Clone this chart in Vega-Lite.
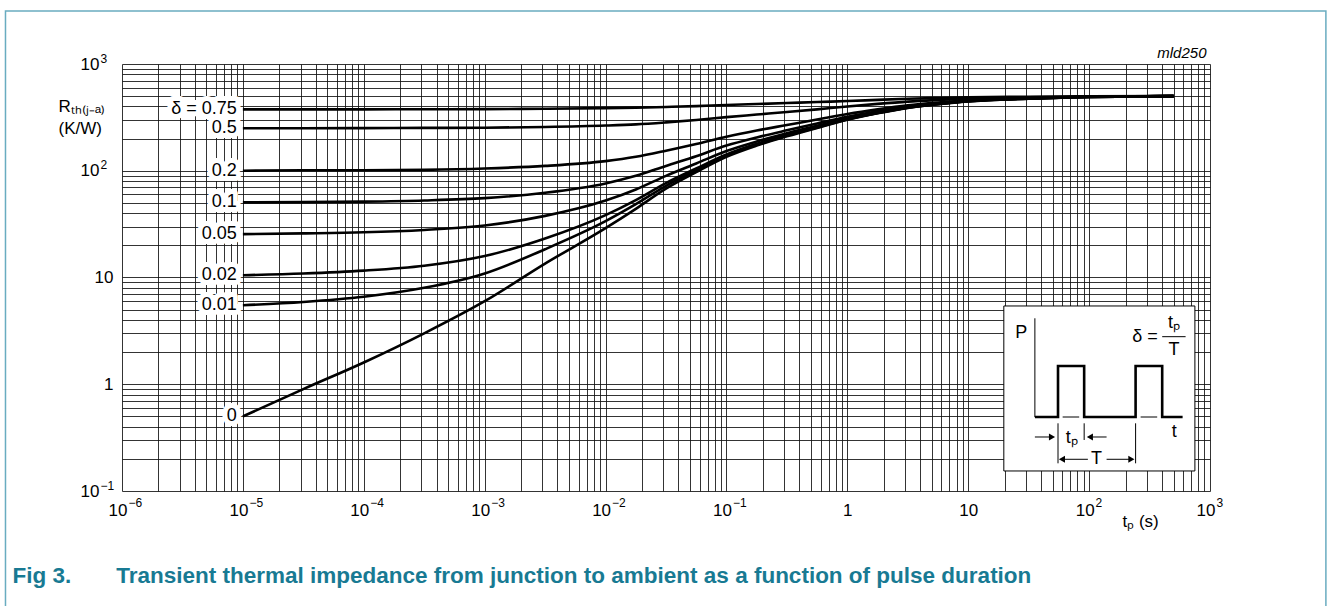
{
  "$schema": "https://vega.github.io/schema/vega-lite/v6.json",
  "width": 1088,
  "height": 427,
  "autosize": "none",
  "padding": {"left": 122, "top": 64, "right": 117, "bottom": 115},
  "background": "white",
  "config": {"view": {"stroke": null}, "font": "Liberation Sans"},
  "datasets": {
    "curves": [
      {"delta":"0.75","t":1e-5,"z":376},{"delta":"0.75","t":3.16e-5,"z":376},{"delta":"0.75","t":1e-4,"z":376},{"delta":"0.75","t":3.16e-4,"z":377},{"delta":"0.75","t":1e-3,"z":378},{"delta":"0.75","t":3.16e-3,"z":381},{"delta":"0.75","t":1e-2,"z":386},{"delta":"0.75","t":1.78e-2,"z":390},{"delta":"0.75","t":3.16e-2,"z":396},{"delta":"0.75","t":5.62e-2,"z":403},{"delta":"0.75","t":0.1,"z":413},{"delta":"0.75","t":0.178,"z":422},{"delta":"0.75","t":0.316,"z":431},{"delta":"0.75","t":0.562,"z":440},{"delta":"0.75","t":1,"z":450},{"delta":"0.75","t":1.78,"z":461},{"delta":"0.75","t":3.16,"z":472},{"delta":"0.75","t":5.62,"z":480},{"delta":"0.75","t":10,"z":487},{"delta":"0.75","t":31.6,"z":494},{"delta":"0.75","t":100,"z":498},{"delta":"0.75","t":500,"z":500},
      {"delta":"0.5","t":1e-5,"z":250},{"delta":"0.5","t":3.16e-5,"z":250},{"delta":"0.5","t":1e-4,"z":251},{"delta":"0.5","t":3.16e-4,"z":252},{"delta":"0.5","t":1e-3,"z":253},{"delta":"0.5","t":3.16e-3,"z":257},{"delta":"0.5","t":1e-2,"z":265},{"delta":"0.5","t":1.78e-2,"z":272},{"delta":"0.5","t":3.16e-2,"z":284},{"delta":"0.5","t":5.62e-2,"z":299},{"delta":"0.5","t":0.1,"z":318},{"delta":"0.5","t":0.178,"z":336},{"delta":"0.5","t":0.316,"z":355},{"delta":"0.5","t":0.562,"z":376},{"delta":"0.5","t":1,"z":400},{"delta":"0.5","t":1.78,"z":423},{"delta":"0.5","t":3.16,"z":444},{"delta":"0.5","t":5.62,"z":460},{"delta":"0.5","t":10,"z":474},{"delta":"0.5","t":31.6,"z":487},{"delta":"0.5","t":100,"z":496},{"delta":"0.5","t":500,"z":500},
      {"delta":"0.2","t":1e-5,"z":100},{"delta":"0.2","t":3.16e-5,"z":101},{"delta":"0.2","t":1e-4,"z":101},{"delta":"0.2","t":3.16e-4,"z":102},{"delta":"0.2","t":1e-3,"z":105},{"delta":"0.2","t":3.16e-3,"z":111},{"delta":"0.2","t":1e-2,"z":123},{"delta":"0.2","t":1.78e-2,"z":135},{"delta":"0.2","t":3.16e-2,"z":154},{"delta":"0.2","t":5.62e-2,"z":178},{"delta":"0.2","t":0.1,"z":208},{"delta":"0.2","t":0.178,"z":238},{"delta":"0.2","t":0.316,"z":268},{"delta":"0.2","t":0.562,"z":302},{"delta":"0.2","t":1,"z":340},{"delta":"0.2","t":1.78,"z":376},{"delta":"0.2","t":3.16,"z":410},{"delta":"0.2","t":5.62,"z":436},{"delta":"0.2","t":10,"z":458},{"delta":"0.2","t":31.6,"z":479},{"delta":"0.2","t":100,"z":494},{"delta":"0.2","t":500,"z":500},
      {"delta":"0.1","t":1e-5,"z":50.5},{"delta":"0.1","t":3.16e-5,"z":50.8},{"delta":"0.1","t":1e-4,"z":51.4},{"delta":"0.1","t":3.16e-4,"z":52.7},{"delta":"0.1","t":1e-3,"z":55.4},{"delta":"0.1","t":3.16e-3,"z":62.2},{"delta":"0.1","t":1e-2,"z":76.1},{"delta":"0.1","t":1.78e-2,"z":89.6},{"delta":"0.1","t":3.16e-2,"z":111},{"delta":"0.1","t":5.62e-2,"z":137},{"delta":"0.1","t":0.1,"z":172},{"delta":"0.1","t":0.178,"z":205},{"delta":"0.1","t":0.316,"z":239},{"delta":"0.1","t":0.562,"z":277},{"delta":"0.1","t":1,"z":320},{"delta":"0.1","t":1.78,"z":361},{"delta":"0.1","t":3.16,"z":399},{"delta":"0.1","t":5.62,"z":428},{"delta":"0.1","t":10,"z":452},{"delta":"0.1","t":31.6,"z":477},{"delta":"0.1","t":100,"z":493},{"delta":"0.1","t":500,"z":500},
      {"delta":"0.05","t":1e-5,"z":25.5},{"delta":"0.05","t":3.16e-5,"z":25.9},{"delta":"0.05","t":1e-4,"z":26.5},{"delta":"0.05","t":3.16e-4,"z":27.9},{"delta":"0.05","t":1e-3,"z":30.7},{"delta":"0.05","t":3.16e-3,"z":37.8},{"delta":"0.05","t":1e-2,"z":52.6},{"delta":"0.05","t":1.78e-2,"z":66.8},{"delta":"0.05","t":3.16e-2,"z":89.6},{"delta":"0.05","t":5.62e-2,"z":117},{"delta":"0.05","t":0.1,"z":153},{"delta":"0.05","t":0.178,"z":188},{"delta":"0.05","t":0.316,"z":225},{"delta":"0.05","t":0.562,"z":264},{"delta":"0.05","t":1,"z":310},{"delta":"0.05","t":1.78,"z":353},{"delta":"0.05","t":3.16,"z":394},{"delta":"0.05","t":5.62,"z":424},{"delta":"0.05","t":10,"z":450},{"delta":"0.05","t":31.6,"z":475},{"delta":"0.05","t":100,"z":492},{"delta":"0.05","t":500,"z":500},
      {"delta":"0.02","t":1e-5,"z":10.5},{"delta":"0.02","t":3.16e-5,"z":10.9},{"delta":"0.02","t":1e-4,"z":11.6},{"delta":"0.02","t":3.16e-4,"z":12.9},{"delta":"0.02","t":1e-3,"z":15.9},{"delta":"0.02","t":3.16e-3,"z":23.2},{"delta":"0.02","t":1e-2,"z":38.4},{"delta":"0.02","t":1.78e-2,"z":53.1},{"delta":"0.02","t":3.16e-2,"z":76.6},{"delta":"0.02","t":5.62e-2,"z":105},{"delta":"0.02","t":0.1,"z":142},{"delta":"0.02","t":0.178,"z":179},{"delta":"0.02","t":0.316,"z":216},{"delta":"0.02","t":0.562,"z":257},{"delta":"0.02","t":1,"z":304},{"delta":"0.02","t":1.78,"z":348},{"delta":"0.02","t":3.16,"z":390},{"delta":"0.02","t":5.62,"z":422},{"delta":"0.02","t":10,"z":448},{"delta":"0.02","t":31.6,"z":475},{"delta":"0.02","t":100,"z":492},{"delta":"0.02","t":500,"z":500},
      {"delta":"0.01","t":1e-5,"z":5.5},{"delta":"0.01","t":3.16e-5,"z":5.9},{"delta":"0.01","t":1e-4,"z":6.6},{"delta":"0.01","t":3.16e-4,"z":8.0},{"delta":"0.01","t":1e-3,"z":10.9},{"delta":"0.01","t":3.16e-3,"z":18.4},{"delta":"0.01","t":1e-2,"z":33.7},{"delta":"0.01","t":1.78e-2,"z":48.6},{"delta":"0.01","t":3.16e-2,"z":72.3},{"delta":"0.01","t":5.62e-2,"z":101},{"delta":"0.01","t":0.1,"z":139},{"delta":"0.01","t":0.178,"z":175},{"delta":"0.01","t":0.316,"z":213},{"delta":"0.01","t":0.562,"z":254},{"delta":"0.01","t":1,"z":302},{"delta":"0.01","t":1.78,"z":347},{"delta":"0.01","t":3.16,"z":389},{"delta":"0.01","t":5.62,"z":421},{"delta":"0.01","t":10,"z":448},{"delta":"0.01","t":31.6,"z":474},{"delta":"0.01","t":100,"z":492},{"delta":"0.01","t":500,"z":500},
      {"delta":"0","t":1e-5,"z":0.5},{"delta":"0","t":3.16e-5,"z":0.9},{"delta":"0","t":1e-4,"z":1.6},{"delta":"0","t":3.16e-4,"z":3.0},{"delta":"0","t":1e-3,"z":6.0},{"delta":"0","t":3.16e-3,"z":13.5},{"delta":"0","t":1e-2,"z":29},{"delta":"0","t":1.78e-2,"z":44},{"delta":"0","t":3.16e-2,"z":68},{"delta":"0","t":5.62e-2,"z":97},{"delta":"0","t":0.1,"z":135},{"delta":"0","t":0.178,"z":172},{"delta":"0","t":0.316,"z":210},{"delta":"0","t":0.562,"z":252},{"delta":"0","t":1,"z":300},{"delta":"0","t":1.78,"z":345},{"delta":"0","t":3.16,"z":388},{"delta":"0","t":5.62,"z":420},{"delta":"0","t":10,"z":447},{"delta":"0","t":31.6,"z":474},{"delta":"0","t":100,"z":492},{"delta":"0","t":500,"z":500}
    ],
    "insetBox": [{"x1": 19.7, "x2": 750, "y1": 0.154, "y2": 5.41}],
    "wave": [
      {"o":1,"x":35.6,"y":0.4934},{"o":2,"x":55.3,"y":0.4934},{"o":3,"x":55.3,"y":1.4825},{"o":4,"x":91.0,"y":1.4825},{"o":5,"x":91.0,"y":0.4934},{"o":6,"x":242.4,"y":0.4934},{"o":7,"x":242.4,"y":1.4825},{"o":8,"x":402.3,"y":1.4825},{"o":9,"x":402.3,"y":0.4934},{"o":10,"x":593.5,"y":0.4934}
    ],
    "segs": [
      {"x1":35.6,"x2":35.6,"y1":0.4934,"y2":4.148},
      {"x1":55.3,"x2":55.3,"y1":0.4307,"y2":0.1817},
      {"x1":91.0,"x2":91.0,"y1":0.4307,"y2":0.3005},
      {"x1":242.4,"x2":242.4,"y1":0.4307,"y2":0.1817},
      {"x1":402.3,"x2":628.3,"y1":2.79,"y2":2.79},
      {"x1":60.4,"x2":82.8,"y1":0.4934,"y2":0.4934},
      {"x1":266.7,"x2":365.8,"y1":0.4934,"y2":0.4934},
      {"x1":35.6,"x2":47.4,"y1":0.3206,"y2":0.3206},
      {"x1":107.5,"x2":139.5,"y1":0.3206,"y2":0.3206},
      {"x1":62.0,"x2":97.7,"y1":0.1982,"y2":0.1982},
      {"x1":139.5,"x2":217.6,"y1":0.1982,"y2":0.1982}
    ],
    "heads": [
      {"x":49.3,"y":0.3206,"dir":"right"},
      {"x":101.5,"y":0.3206,"dir":"left"},
      {"x":59.6,"y":0.1982,"dir":"left"},
      {"x":223.8,"y":0.1982,"dir":"right"}
    ],
    "insetText": [
      {"x":27.4,"y":3.0,"txt":"P"},
      {"x":289.4,"y":2.79,"txt":"δ ="},
      {"x":502.8,"y":3.72,"txt":"tₚ"},
      {"x":502.8,"y":2.094,"txt":"T"},
      {"x":505,"y":0.3593,"txt":"t"},
      {"x":71.7,"y":0.3117,"txt":"tₚ"},
      {"x":115.3,"y":0.1982,"txt":"T"}
    ],
    "frame": [{"x1": 1.087e-7, "x2": 9093, "y1": 0.00402, "y2": 3137}],
    "one": [{"t": 1}]
  },
  "layer": [
    {
      "data": {"name": "curves"},
      "mark": {"type": "line", "interpolate": "monotone", "strokeWidth": 2.6, "color": "#000"},
      "encoding": {
        "x": {
          "field": "t", "type": "quantitative",
          "scale": {"type": "log", "domain": [1e-6, 1000], "nice": false},
          "axis": {
            "orient": "bottom",
            "values": [1e-6,2e-6,3e-6,4e-6,5e-6,6e-6,7e-6,8e-6,9e-6,1e-5,2e-5,3e-5,4e-5,5e-5,6e-5,7e-5,8e-5,9e-5,1e-4,2e-4,3e-4,4e-4,5e-4,6e-4,7e-4,8e-4,9e-4,0.001,0.002,0.003,0.004,0.005,0.006,0.007,0.008,0.009,0.01,0.02,0.03,0.04,0.05,0.06,0.07,0.08,0.09,0.1,0.2,0.3,0.4,0.5,0.6,0.7,0.8,0.9,1,2,3,4,5,6,7,8,9,10,20,30,40,50,60,70,80,90,100,200,300,400,500,600,700,800,900,1000],
            "labels": false,
            "grid": true, "gridColor": "#111", "gridOpacity": 0.85, "gridWidth": 1,
            "ticks": false, "domain": false,
            "title": "tₚ (s)", "titleX": 1000, "titleY": 35, "titleAlign": "left",
            "titleBaseline": "alphabetic", "titleFontSize": 17, "titleFontWeight": "normal", "titleColor": "#000"
          }
        },
        "y": {
          "field": "z", "type": "quantitative",
          "scale": {"type": "log", "domain": [0.1, 1000], "nice": false},
          "axis": {
            "orient": "left",
            "values": [0.1,0.2,0.3,0.4,0.5,0.6,0.7,0.8,0.9,1,2,3,4,5,6,7,8,9,10,20,30,40,50,60,70,80,90,100,200,300,400,500,600,700,800,900,1000],
            "labels": false,
            "grid": true, "gridColor": "#111", "gridOpacity": 0.85, "gridWidth": 1,
            "ticks": false, "domain": false,
            "title": ["Rₜₕ₍ⱼ₋ₐ₎", "(K/W)"], "titleAngle": 0, "titleX": -64, "titleY": 34,
            "titleAlign": "left", "titleBaseline": "top", "titleFontSize": 17,
            "titleFontWeight": "normal", "titleColor": "#000", "titleLineHeight": 22
          }
        },
        "detail": {"field": "delta"}
      }
    },
    {
      "data": {"name": "frame"},
      "mark": {"type": "rect", "fill": null, "fillOpacity": 0, "stroke": "#69acc0", "strokeWidth": 1.5},
      "encoding": {
        "x": {"field": "x1", "type": "quantitative", "scale": {"type": "log", "domain": [1e-6, 1000], "nice": false}, "axis": null},
        "x2": {"field": "x2"},
        "y": {"field": "y1", "type": "quantitative", "scale": {"type": "log", "domain": [0.1, 1000], "nice": false}, "axis": null},
        "y2": {"field": "y2"}
      }
    },
    {
      "data": {"name": "curves"},
      "transform": [
        {"filter": "datum.t == 0.00001"},
        {"calculate": "datum.delta == '0.75' ? 'δ = 0.75' : datum.delta", "as": "lbl"}
      ],
      "mark": {"type": "text", "align": "right", "baseline": "middle", "dx": -6, "fontSize": 18, "fill": "white", "stroke": "white", "strokeWidth": 10, "strokeJoin": "round"},
      "encoding": {
        "x": {"field": "t", "type": "quantitative", "scale": {"type": "log", "domain": [1e-6, 1000], "nice": false}, "axis": null},
        "y": {"field": "z", "type": "quantitative", "scale": {"type": "log", "domain": [0.1, 1000], "nice": false}, "axis": null},
        "text": {"field": "lbl"}
      }
    },
    {
      "data": {"name": "curves"},
      "transform": [
        {"filter": "datum.t == 0.00001"},
        {"calculate": "datum.delta == '0.75' ? 'δ = 0.75' : datum.delta", "as": "lbl"}
      ],
      "mark": {"type": "text", "align": "right", "baseline": "middle", "dx": -6, "fontSize": 18, "color": "#000"},
      "encoding": {
        "x": {"field": "t", "type": "quantitative", "scale": {"type": "log", "domain": [1e-6, 1000], "nice": false}, "axis": null},
        "y": {"field": "z", "type": "quantitative", "scale": {"type": "log", "domain": [0.1, 1000], "nice": false}, "axis": null},
        "text": {"field": "lbl"}
      }
    },
    {
      "data": {"name": "insetBox"},
      "mark": {"type": "rect", "fill": "white", "stroke": "#000", "strokeWidth": 1},
      "encoding": {
        "x": {"field": "x1", "type": "quantitative", "scale": {"type": "log", "domain": [1e-6, 1000], "nice": false}, "axis": null},
        "x2": {"field": "x2"},
        "y": {"field": "y1", "type": "quantitative", "scale": {"type": "log", "domain": [0.1, 1000], "nice": false}, "axis": null},
        "y2": {"field": "y2"}
      }
    },
    {
      "data": {"name": "wave"},
      "mark": {"type": "line", "strokeWidth": 2.6, "color": "#000", "strokeJoin": "miter", "strokeCap": "butt"},
      "encoding": {
        "x": {"field": "x", "type": "quantitative", "scale": {"type": "log", "domain": [1e-6, 1000], "nice": false}, "axis": null},
        "y": {"field": "y", "type": "quantitative", "scale": {"type": "log", "domain": [0.1, 1000], "nice": false}, "axis": null},
        "order": {"field": "o"}
      }
    },
    {
      "data": {"name": "segs"},
      "mark": {"type": "rule", "strokeWidth": 1, "color": "#000"},
      "encoding": {
        "x": {"field": "x1", "type": "quantitative", "scale": {"type": "log", "domain": [1e-6, 1000], "nice": false}, "axis": null},
        "x2": {"field": "x2"},
        "y": {"field": "y1", "type": "quantitative", "scale": {"type": "log", "domain": [0.1, 1000], "nice": false}, "axis": null},
        "y2": {"field": "y2"}
      }
    },
    {
      "data": {"name": "heads"},
      "mark": {"type": "point", "filled": true, "color": "#000", "size": 50, "opacity": 1},
      "encoding": {
        "x": {"field": "x", "type": "quantitative", "scale": {"type": "log", "domain": [1e-6, 1000], "nice": false}, "axis": null},
        "y": {"field": "y", "type": "quantitative", "scale": {"type": "log", "domain": [0.1, 1000], "nice": false}, "axis": null},
        "shape": {"field": "dir", "type": "nominal", "scale": {"domain": ["right", "left"], "range": ["triangle-right", "triangle-left"]}, "legend": null}
      }
    },
    {
      "data": {"name": "insetText"},
      "mark": {"type": "text", "align": "center", "baseline": "middle", "fontSize": 18, "color": "#000"},
      "encoding": {
        "x": {"field": "x", "type": "quantitative", "scale": {"type": "log", "domain": [1e-6, 1000], "nice": false}, "axis": null},
        "y": {"field": "y", "type": "quantitative", "scale": {"type": "log", "domain": [0.1, 1000], "nice": false}, "axis": null},
        "text": {"field": "txt"}
      }
    },
    {
      "data": {"name": "one"},
      "mark": {"type": "point", "opacity": 0},
      "encoding": {
        "x": {
          "field": "t", "type": "quantitative",
          "scale": {"type": "log", "domain": [1e-6, 1000], "nice": false},
          "axis": {
            "orient": "bottom", "title": null, "ticks": false, "domain": false, "grid": false,
            "values": [1e-6,1e-5,1e-4,0.001,0.01,0.1,100,1000],
            "labelExpr": "'10'", "labelAlign": "right", "labelOffset": 5,
            "labelFontSize": 17, "labelColor": "#000", "labelPadding": 11,
            "labelOverlap": false, "labelFlush": false, "labelBound": false
          }
        },
        "y": {
          "field": "t", "type": "quantitative",
          "scale": {"type": "log", "domain": [0.1, 1000], "nice": false},
          "axis": {
            "orient": "left", "title": null, "ticks": false, "domain": false, "grid": false,
            "values": [0.1, 100, 1000],
            "labelExpr": "'10'", "labelAlign": "right",
            "labelFontSize": 17, "labelColor": "#000", "labelPadding": 23,
            "labelOverlap": false, "labelFlush": false, "labelBound": false
          }
        }
      }
    },
    {
      "data": {"name": "one"},
      "mark": {"type": "point", "opacity": 0},
      "encoding": {
        "x": {
          "field": "t", "type": "quantitative",
          "scale": {"type": "log", "domain": [1e-6, 1000], "nice": false},
          "axis": {
            "orient": "bottom", "title": null, "ticks": false, "domain": false, "grid": false,
            "values": [1, 10],
            "labelExpr": "datum.value < 5 ? '1' : '10'", "labelAlign": "center",
            "labelFontSize": 17, "labelColor": "#000", "labelPadding": 11,
            "labelOverlap": false, "labelFlush": false, "labelBound": false
          }
        },
        "y": {
          "field": "t", "type": "quantitative",
          "scale": {"type": "log", "domain": [0.1, 1000], "nice": false},
          "axis": {
            "orient": "left", "title": null, "ticks": false, "domain": false, "grid": false,
            "values": [1, 10],
            "labelExpr": "datum.value < 5 ? '1' : '10'", "labelAlign": "right",
            "labelFontSize": 17, "labelColor": "#000", "labelPadding": 9,
            "labelOverlap": false, "labelFlush": false, "labelBound": false
          }
        }
      }
    },
    {
      "data": {"name": "one"},
      "mark": {"type": "point", "opacity": 0},
      "encoding": {
        "x": {
          "field": "t", "type": "quantitative",
          "scale": {"type": "log", "domain": [1e-6, 1000], "nice": false},
          "axis": {
            "orient": "bottom", "title": null, "ticks": false, "domain": false, "grid": false,
            "values": [1e-6,1e-5,1e-4,0.001,0.01,0.1,100,1000],
            "labelExpr": "['−6','−5','−4','−3','−2','−1','','','2','3'][round(log(datum.value)/LN10)+6]",
            "labelAlign": "left", "labelOffset": 6,
            "labelFontSize": 12, "labelColor": "#000", "labelPadding": 6,
            "labelOverlap": false, "labelFlush": false, "labelBound": false
          }
        },
        "y": {
          "field": "t", "type": "quantitative",
          "scale": {"type": "log", "domain": [0.1, 1000], "nice": false},
          "axis": {
            "orient": "left", "title": null, "ticks": false, "domain": false, "grid": false,
            "values": [0.1, 100, 1000],
            "labelExpr": "datum.value < 1 ? '−1' : (datum.value < 500 ? '2' : '3')",
            "labelAlign": "left", "labelOffset": -6,
            "labelFontSize": 12, "labelColor": "#000", "labelPadding": 22,
            "labelOverlap": false, "labelFlush": false, "labelBound": false
          }
        }
      }
    },
    {
      "data": {"name": "one"},
      "mark": {"type": "point", "opacity": 0},
      "encoding": {
        "x": {
          "field": "t", "type": "quantitative",
          "scale": {"type": "log", "domain": [1e-6, 1000], "nice": false},
          "axis": {
            "orient": "bottom", "labels": false, "ticks": false, "domain": false, "grid": false,
            "title": "Fig 3.\u2003\u2003Transient thermal impedance from junction to ambient as a function of pulse duration",
            "titleX": -110, "titleY": 91, "titleAlign": "left", "titleBaseline": "alphabetic",
            "titleFontSize": 22.5, "titleFontWeight": "bold", "titleColor": "#187a93", "titleLimit": 2000
          }
        }
      }
    },
    {
      "data": {"name": "one"},
      "mark": {"type": "point", "opacity": 0},
      "encoding": {
        "x": {
          "field": "t", "type": "quantitative",
          "scale": {"type": "log", "domain": [1e-6, 1000], "nice": false},
          "axis": {
            "orient": "top", "labels": false, "ticks": false, "domain": false, "grid": false,
            "title": "mld250", "titleX": 1084, "titleY": -7, "titleAlign": "right", "titleBaseline": "alphabetic",
            "titleFontSize": 15, "titleFontStyle": "italic", "titleFontWeight": "normal", "titleColor": "#000"
          }
        }
      }
    }
  ],
  "resolve": {"axis": {"x": "independent", "y": "independent"}}
}
